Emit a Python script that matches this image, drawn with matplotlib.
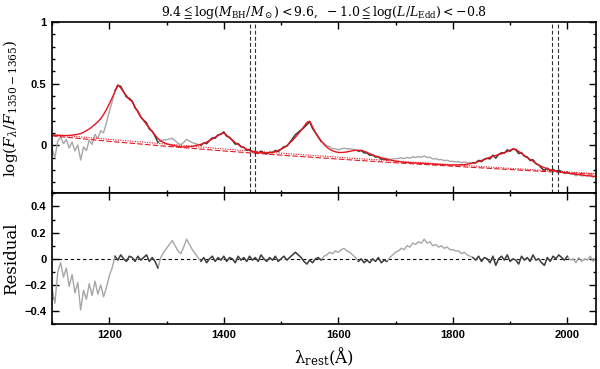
import numpy as np
import matplotlib
matplotlib.use('Agg')
import matplotlib.pyplot as plt
from matplotlib.ticker import MultipleLocator, FuncFormatter

plt.rcParams['mathtext.fontset'] = 'dejavuserif'

# wavelength grid of the composite spectrum (5 A sampling)
wave = np.arange(1100, 2051, 5)

# best-fit model, log(F/F_1350-1365)
model = [
    0.082, 0.081, 0.080, 0.079, 0.079, 0.079, 0.080, 0.082, 0.085, 0.089,
    0.095, 0.105, 0.118, 0.132, 0.150, 0.170, 0.190, 0.215, 0.250, 0.290,
    0.335, 0.385, 0.435, 0.490, 0.465, 0.434, 0.400, 0.372, 0.354, 0.312,
    0.268, 0.232, 0.200, 0.170, 0.140, 0.110, 0.082, 0.055, 0.035, 0.022,
    0.012, 0.006, 0.000, -0.005, -0.009, -0.012, -0.014, -0.013, -0.011, -0.008,
    -0.003, 0.002, 0.008, 0.015, 0.026, 0.038, 0.052, 0.066, 0.080, 0.093,
    0.100, 0.082, 0.060, 0.040, 0.022, 0.006, -0.008, -0.020, -0.032, -0.042,
    -0.050, -0.055, -0.058, -0.060, -0.061, -0.061, -0.060, -0.056, -0.050, -0.042,
    -0.032, -0.020, -0.004, 0.018, 0.040, 0.065, 0.092, 0.120, 0.152, 0.185,
    0.195, 0.150, 0.102, 0.065, 0.035, 0.008, -0.016, -0.033, -0.045, -0.053,
    -0.058, -0.059, -0.057, -0.054, -0.049, -0.044, -0.041, -0.040, -0.042, -0.048,
    -0.058, -0.068, -0.078, -0.087, -0.095, -0.101, -0.106, -0.111, -0.118, -0.124,
    -0.129, -0.132, -0.135, -0.138, -0.140, -0.142, -0.143, -0.144, -0.145, -0.146,
    -0.147, -0.149, -0.150, -0.152, -0.154, -0.155, -0.157, -0.158, -0.159, -0.160,
    -0.160, -0.160, -0.159, -0.158, -0.157, -0.154, -0.150, -0.145, -0.139, -0.131,
    -0.124, -0.116, -0.106, -0.097, -0.089, -0.082, -0.075, -0.069, -0.060, -0.050,
    -0.040, -0.030, -0.033, -0.050, -0.068, -0.085, -0.100, -0.115, -0.130, -0.145,
    -0.160, -0.172, -0.182, -0.190, -0.198, -0.204, -0.210, -0.214, -0.218, -0.222,
    -0.226, -0.229, -0.232, -0.235, -0.238, -0.241, -0.244, -0.246, -0.249, -0.251,
    -0.253]

# residual (data/model - 1)
resid = [
    -0.22, -0.34, -0.10, -0.03, -0.14, -0.07, -0.21, -0.12, -0.26, -0.18,
    -0.39, -0.24, -0.31, -0.19, -0.28, -0.17, -0.27, -0.20, -0.29, -0.22,
    -0.13, -0.07, 0.02, -0.01, 0.03, 0.00, -0.02, 0.02, 0.01, -0.02,
    0.02, -0.01, 0.01, 0.03, -0.02, 0.01, -0.02, -0.07, 0.01, 0.05,
    0.08, 0.11, 0.14, 0.10, 0.06, 0.04, 0.09, 0.15, 0.11, 0.07,
    0.04, 0.01, -0.02, 0.01, -0.03, 0.00, 0.02, -0.02, 0.01, -0.01,
    0.02, -0.02, 0.01, 0.00, -0.03, 0.02, -0.01, 0.01, -0.02, 0.02,
    -0.01, 0.01, -0.02, 0.03, 0.00, -0.02, 0.01, -0.01, 0.02, -0.02,
    0.00, 0.02, -0.01, 0.01, 0.03, 0.05, 0.03, 0.01, -0.02, -0.04,
    -0.01, -0.03, 0.00, 0.01, -0.01, 0.02, 0.03, 0.05, 0.04, 0.06,
    0.05, 0.07, 0.08, 0.06, 0.05, 0.03, 0.01, -0.02, 0.00, -0.03,
    -0.01, -0.03, 0.00, -0.02, 0.01, -0.03, -0.01, -0.02, 0.01, 0.03,
    0.05, 0.06, 0.08, 0.07, 0.10, 0.09, 0.12, 0.11, 0.13, 0.12,
    0.15, 0.12, 0.13, 0.10, 0.11, 0.09, 0.10, 0.08, 0.09, 0.07,
    0.07, 0.06, 0.06, 0.04, 0.05, 0.03, 0.02, 0.01, -0.01, 0.02,
    -0.02, 0.01, 0.00, -0.03, 0.02, -0.05, 0.00, 0.02, -0.01, 0.03,
    -0.02, 0.00, -0.01, -0.04, 0.02, -0.01, 0.01, -0.02, 0.03, -0.01,
    0.00, -0.03, -0.05, 0.01, -0.02, 0.02, 0.00, 0.03, 0.01, -0.01,
    0.02, -0.01, 0.00, -0.03, 0.01, -0.02, 0.00, -0.01, 0.02, -0.02,
    0.01]

# continuum fits (power laws)
cont_wave = [1100, 1200, 1300, 1400, 1500, 1600, 1700, 1800, 1900, 2000, 2050]
cont_dash = [0.076, 0.032, -0.008, -0.046, -0.080, -0.112, -0.142, -0.170, -0.197, -0.223, -0.235]
cont_dot = [0.088, 0.048, 0.010, -0.030, -0.064, -0.097, -0.128, -0.158, -0.187, -0.216, -0.230]

# fitting windows (drawn darker)
fit_windows = [(1210, 1287), (1357, 1570), (1632, 1688), (1832, 2000)]
# continuum windows marked by the dashed vertical lines
cont_lines = [1445, 1455, 1973, 1983]

model = np.array(model)
resid = np.array(resid)
flux = model + np.log10(1 + resid)

infit = np.zeros(len(wave), dtype=bool)
for lo, hi in fit_windows:
    infit |= (wave >= lo) & (wave <= hi)

tickfont = {'family': 'Liberation Sans', 'weight': 'bold', 'size': 8}

def fmt(v, p):
    s = '%g' % round(v, 2)
    if s == '-0':
        s = '0'
    return s.replace('-', '\u2212')

fig = plt.figure(figsize=(6, 3.69), dpi=100)
ax1 = fig.add_axes([0.0867, 0.476, 0.9066, 0.4644])
ax2 = fig.add_axes([0.0867, 0.1211, 0.9066, 0.355])

# top panel: spectrum, model and continuum
ax1.plot(wave, flux, color='#a6a6a6', lw=1.0)
ax1.plot(wave, np.where(infit, flux, np.nan), color='#3c3c3c', lw=1.0)
ax1.plot(wave, model, color='#e8141e', lw=1.0)
ax1.plot(cont_wave, cont_dash, color='#e8141e', lw=0.8, dashes=(5, 2))
ax1.plot(cont_wave, cont_dot, color='#e8141e', lw=0.8, dashes=(1, 1.2))
for w in cont_lines:
    ax1.axvline(w, color='#303030', lw=0.8, dashes=(3.5, 2))
ax1.set_xlim(1100, 2050)
ax1.set_ylim(-0.39, 1.0)
ax1.yaxis.set_major_locator(MultipleLocator(0.5))
ax1.yaxis.set_minor_locator(MultipleLocator(0.1))
ax1.set_ylabel(r'$\log(F_\lambda/F_{1350-1365})$', fontsize=11)
ax1.set_title(r'$9.4\leqq\log(M_{\rm BH}/M_\odot)<9.6,\ -1.0\leqq\log(L/L_{\rm Edd})<-0.8$',
              fontsize=9, pad=4)

# bottom panel: residuals
ax2.axhline(0, color='black', lw=0.8, dashes=(3, 2.5), zorder=1)
ax2.plot(wave, resid, color='#a6a6a6', lw=1.0)
ax2.plot(wave, np.where(infit, resid, np.nan), color='#3c3c3c', lw=1.0)
ax2.set_xlim(1100, 2050)
ax2.set_ylim(-0.5, 0.5)
ax2.yaxis.set_major_locator(MultipleLocator(0.2))
ax2.yaxis.set_minor_locator(MultipleLocator(0.1))
ax2.set_ylabel('Residual', fontsize=12, family='DejaVu Serif')
ax2.set_xlabel(r'$\mathrm{\lambda_{rest}(\AA)}$', fontsize=12, labelpad=4)

for ax in (ax1, ax2):
    ax.xaxis.set_major_locator(MultipleLocator(200))
    ax.xaxis.set_minor_locator(MultipleLocator(100))
    ax.yaxis.set_major_formatter(FuncFormatter(fmt))
    ax.xaxis.set_major_formatter(FuncFormatter(fmt))
    ax.tick_params(which='both', direction='in', top=True, right=True, width=1)
    ax.tick_params(which='major', length=5, pad=4)
    ax.tick_params(which='minor', length=2.5)
    for lab in ax.get_xticklabels() + ax.get_yticklabels():
        lab.set_fontproperties(tickfont)
    for sp in ax.spines.values():
        sp.set_linewidth(1.2)
    ax.yaxis.set_label_coords(-0.059, 0.5)
ax1.set_xticklabels([])

fig.savefig('out.png', dpi=100)
